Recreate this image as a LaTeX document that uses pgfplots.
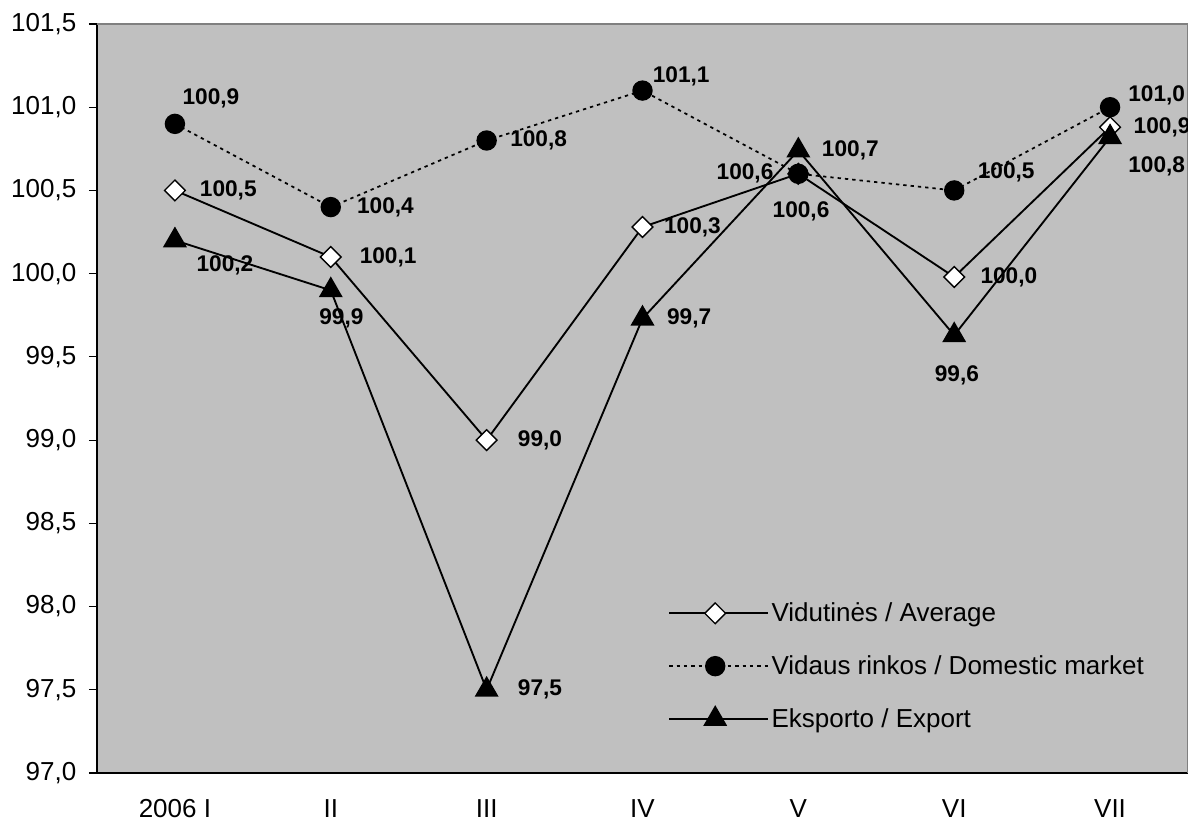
\documentclass[border=0pt]{standalone}
\usepackage{pgfplots}
\pgfplotsset{compat=1.18}
\usepackage{fontspec}
\setmainfont{Liberation Sans}
\definecolor{bg}{RGB}{192,192,192}
\definecolor{fr}{RGB}{128,128,128}
\tikzset{lbl/.style={font=\bfseries\fontsize{17}{20}\selectfont}}
\begin{document}
\begin{tikzpicture}
\begin{axis}[
 at={(0pt,0pt)}, anchor=south west,
 scale only axis, width=818.25pt, height=561.75pt,
 xmin=0.5, xmax=7.5, ymin=97, ymax=101.5,
 axis x line*=bottom, axis y line*=left,
 axis line style={-, black, line width=0.9pt},
 axis background/.style={fill=bg},
 tick align=outside,
 xtick={1,2,3,4,5,6,7}, xticklabels={2006 I,II,III,IV,V,VI,VII},
 xtick style={draw=none},
 minor xtick={0.5,1.5,2.5,3.5,4.5,5.5,6.5,7.5},
 minor tick length=6pt, major tick length=6pt,
 ytick={97,97.5,98,98.5,99,99.5,100,100.5,101,101.5},
 yticklabel style={xshift=-6pt, /pgf/number format/.cd, fixed, fixed zerofill, precision=1, use comma},
 /pgf/number format/assume math mode=true,
 tick label style={font=\fontsize{19.5}{23}\selectfont},
 xticklabel style={yshift=-10.5pt},
 tick style={black, line width=0.9pt},
 legend style={at={(axis description cs:0.5234,0.231)}, anchor=north west, draw=none, fill=none, inner sep=0pt, row sep=20pt, font=\fontsize{19.5}{23}\selectfont},
 legend cell align=left,
 legend image code/.code={\path (0pt,0pt) -- (74pt,0pt); \draw[mark repeat=2,mark phase=2,#1] plot coordinates {(0pt,0pt)(34.5pt,0pt)(69pt,0pt)};},
]
\draw[fr, line width=0.9pt] (rel axis cs:0,1) -- (rel axis cs:1,1) -- (rel axis cs:1,0);
\addplot[black, line width=1.4pt, mark=square*, mark size=5.5pt, mark options={rotate=45, fill=white, solid, line width=1pt}]
 coordinates {(1,100.5)(2,100.1)(3,99.0)(4,100.28)(5,100.6)(6,99.98)(7,100.88)};
\addlegendentry{Vidutinės / Average}
\addplot[black, line width=1.3pt, dash pattern=on 2.5pt off 3pt, mark=*, mark size=7pt, mark options={solid}]
 coordinates {(1,100.9)(2,100.4)(3,100.8)(4,101.1)(5,100.6)(6,100.5)(7,101.0)};
\addlegendentry{Vidaus rinkos / Domestic market}
\addplot[black, line width=1.4pt, mark=triangle*, mark size=9pt, mark options={solid}]
 coordinates {(1,100.2)(2,99.9)(3,97.5)(4,99.73)(5,100.74)(6,99.63)(7,100.82)};
\addlegendentry{Eksporto / Export}
% Average labels
\node[lbl, xshift=40pt] at (axis cs:1,100.5) {100,5};
\node[lbl, xshift=43pt] at (axis cs:2,100.1) {100,1};
\node[lbl, xshift=40pt] at (axis cs:3,99.0) {99,0};
\node[lbl, xshift=37.5pt] at (axis cs:4,100.28) {100,3};
\node[lbl, xshift=2pt, yshift=-28pt] at (axis cs:5,100.6) {100,6};
\node[lbl, xshift=41pt] at (axis cs:6,99.98) {100,0};
\node[lbl, xshift=39pt] at (axis cs:7,100.88) {100,9};
% Domestic labels
\node[lbl, xshift=27pt, yshift=19.5pt] at (axis cs:1,100.9) {100,9};
\node[lbl, xshift=41pt] at (axis cs:2,100.4) {100,4};
\node[lbl, xshift=39pt] at (axis cs:3,100.8) {100,8};
\node[lbl, xshift=29pt, yshift=11pt] at (axis cs:4,101.1) {101,1};
\node[lbl, xshift=-40pt] at (axis cs:5,100.6) {100,6};
\node[lbl, xshift=39pt, yshift=13.5pt] at (axis cs:6,100.5) {100,5};
\node[lbl, xshift=35pt, yshift=9pt] at (axis cs:7,101.0) {101,0};
% Export labels
\node[lbl, xshift=37.5pt, yshift=-19pt] at (axis cs:1,100.2) {100,2};
\node[lbl, xshift=8pt, yshift=-21pt] at (axis cs:2,99.9) {99,9};
\node[lbl, xshift=40pt] at (axis cs:3,97.5) {97,5};
\node[lbl, xshift=35pt] at (axis cs:4,99.73) {99,7};
\node[lbl, xshift=39pt] at (axis cs:5,100.74) {100,7};
\node[lbl, xshift=2pt, yshift=-30pt] at (axis cs:6,99.63) {99,6};
\node[lbl, xshift=35pt, yshift=-22pt] at (axis cs:7,100.82) {100,8};
\end{axis}
\pgfresetboundingbox
\useasboundingbox (-72.75pt,-37.5pt) rectangle (819pt,579.75pt);
\end{tikzpicture}
\end{document}
